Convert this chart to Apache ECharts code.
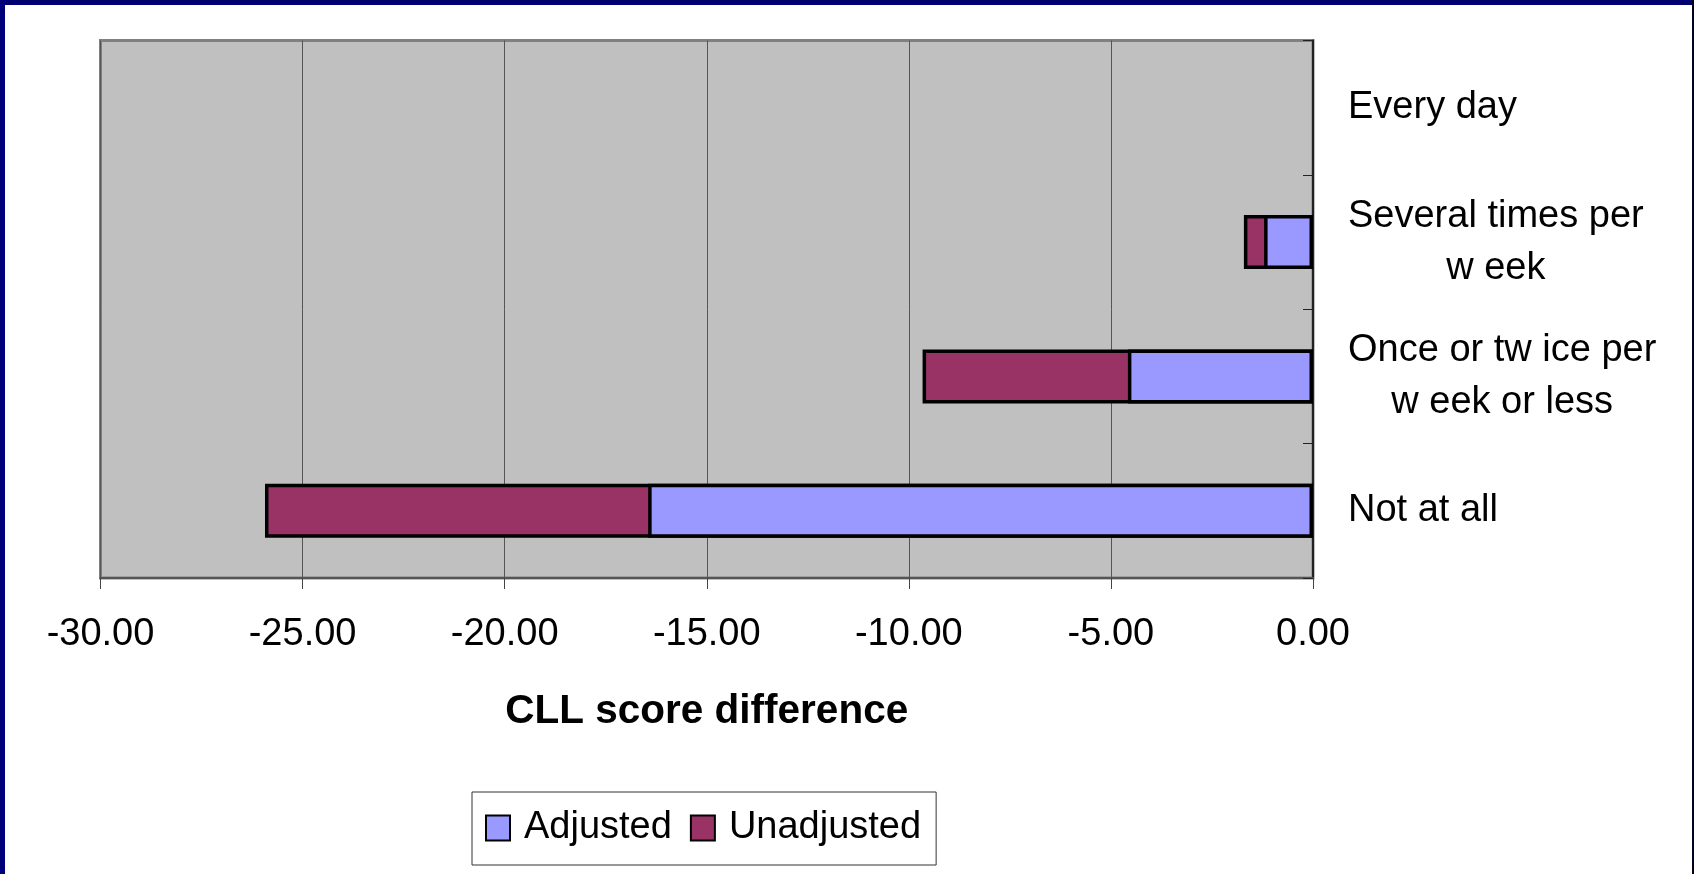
<!DOCTYPE html>
<html>
<head>
<meta charset="utf-8">
<script src="https://cdn.jsdelivr.net/npm/echarts@6/dist/echarts.min.js"></script>
<style>
html,body{margin:0;padding:0;background:#fff;}
#chart{width:1694px;height:874px;}
</style>
</head>
<body>
<div id="chart"></div>
<script>
// Categories, top to bottom
const categories = ['Every day', 'Several times per\nw eek', 'Once or tw ice per\nw eek or less', 'Not at all'];
// CLL score difference (Every day = reference category, no bar)
const adjusted   = [null, -1.21, -4.58, -16.45];
const unadjusted = [null, -1.71, -9.66, -25.93];
const xMin = -30, xMax = 0, xStep = 5;
const seriesNames = ['Adjusted', 'Unadjusted'];
const axisTitle = 'CLL score difference';

const FONT = '"Liberation Sans", Arial, sans-serif';
const chart = echarts.init(document.getElementById('chart'), null, {renderer: 'canvas'});

const option = {
  animation: false,
  backgroundColor: '#ffffff',
  textStyle: {fontFamily: FONT},
  graphic: [
    {type: 'rect', left: 0, top: 0, shape: {width: 1694, height: 5}, style: {fill: '#000070'}, z: 100},
    {type: 'rect', left: 0, top: 0, shape: {width: 5, height: 874}, style: {fill: '#000078'}, z: 100},
    {type: 'rect', left: 1692, top: 0, shape: {width: 2, height: 874}, style: {fill: '#000020'}, z: 100}
  ],
  grid: {
    left: 100.5, right: 381, top: 40.5, bottom: 296,
    show: true, backgroundColor: '#C0C0C0', borderColor: '#808080', borderWidth: 3,
    containLabel: false
  },
  legend: {
    data: seriesNames,
    left: 472, top: 792,
    orient: 'horizontal',
    padding: [17, 15, 18, 13],
    itemWidth: 24, itemHeight: 25, itemGap: 18,
    icon: 'rect',
    backgroundColor: '#ffffff',
    borderColor: '#333333', borderWidth: 1,
    textStyle: {fontSize: 38, color: '#000', fontFamily: FONT, padding: [0, 0, 0, 9]}
  },
  xAxis: {
    type: 'value',
    min: xMin, max: xMax, interval: xStep,
    name: axisTitle,
    nameLocation: 'middle',
    nameGap: 113,
    nameTextStyle: {fontSize: 40.5, fontWeight: 'bold', color: '#000', fontFamily: FONT},
    axisLine: {show: true, onZero: false, lineStyle: {color: '#555', width: 2}},
    axisTick: {show: true, inside: false, length: 11, lineStyle: {color: '#444', width: 1}},
    axisLabel: {fontSize: 38, color: '#000', margin: 38, fontFamily: FONT,
      formatter: v => v.toFixed(2)},
    splitLine: {show: true, lineStyle: {color: '#555', width: 1}}
  },
  yAxis: {
    type: 'category',
    data: categories,
    inverse: true,
    position: 'right',
    axisLine: {show: true, onZero: false, lineStyle: {color: '#222', width: 2}},
    axisTick: {show: true, inside: true, length: 10, alignWithLabel: false, lineStyle: {color: '#222', width: 1}},
    splitLine: {show: false},
    axisLabel: {
      align: 'left', margin: 35, fontSize: 38, lineHeight: 52, color: '#000', fontFamily: FONT,
      formatter: v => v.split('\n').map(l => '{c|' + l + '}').join('\n'),
      rich: {c: {align: 'center', fontSize: 38, lineHeight: 52, color: '#000', fontFamily: FONT}}
    }
  },
  series: [
    {
      name: 'Unadjusted', type: 'bar', data: unadjusted,
      barWidth: 54, barGap: '-100%',
      itemStyle: {color: '#993366', borderColor: '#000', borderWidth: 3.5}
    },
    {
      name: 'Adjusted', type: 'bar', data: adjusted,
      barWidth: 54, barGap: '-100%',
      itemStyle: {color: '#9999FF', borderColor: '#000', borderWidth: 3.5}
    }
  ]
};
chart.setOption(option);
</script>
</body>
</html>
